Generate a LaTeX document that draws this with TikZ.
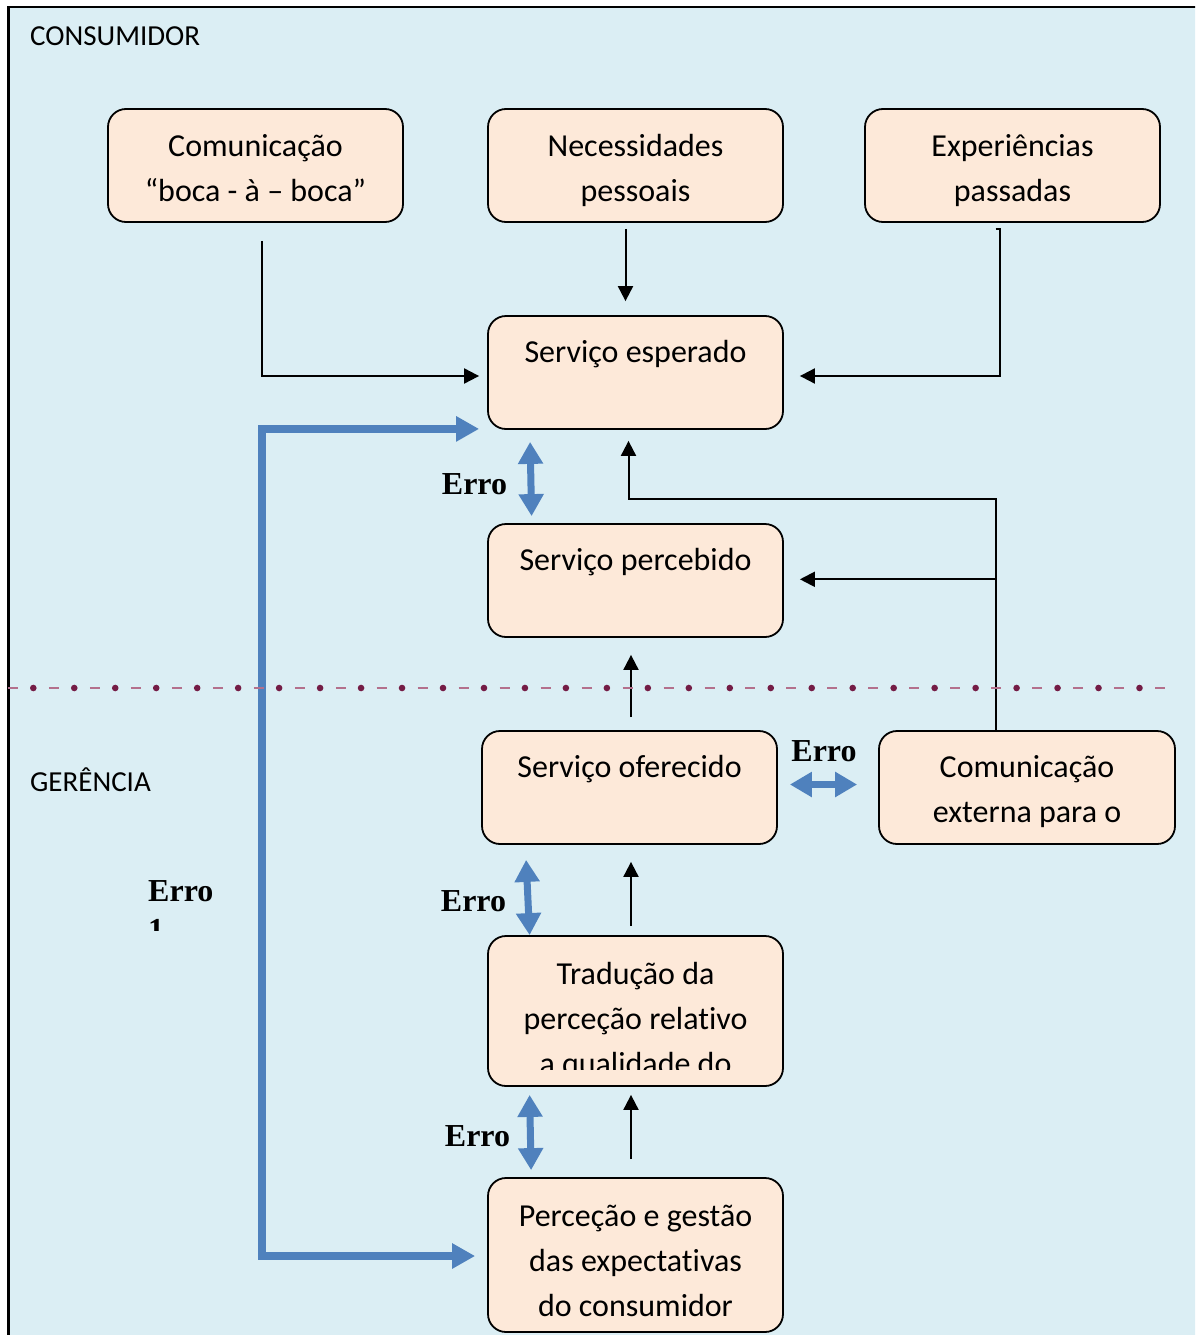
\documentclass[tikz,border=0pt]{standalone}
\usepackage{fontspec}
\setmainfont{Carlito}[Ligatures=NoCommon]
\newfontfamily\erfont{Liberation Serif}
\usetikzlibrary{arrows.meta,calc}
\definecolor{panel}{HTML}{DBEEF4}
\definecolor{boxfill}{HTML}{FDE9D9}
\definecolor{arrblue}{HTML}{4F81BD}
\definecolor{dotc}{HTML}{741C45}
\definecolor{dashc}{HTML}{B3708C}
\begin{document}
\begin{tikzpicture}[x=1pt,y=-1pt,
  box/.style={draw=black, line width=1.8pt, fill=boxfill, rounded corners=18pt, inner sep=0pt, minimum width=295pt, minimum height=113pt},
  btxt/.style={anchor=north, inner sep=0pt, align=center, font=\fontsize{32}{45}\selectfont, execute at begin node=\strut, yshift=-16pt},
  btxtm/.style={btxt, yshift=-10pt},
  lbl/.style={anchor=base west, inner sep=0pt, font=\fontsize{29}{35}\selectfont},
  erro/.style={anchor=base, inner sep=0pt, font=\erfont\bfseries\fontsize{32}{40}\selectfont},
  conn/.style={draw=black, line width=2pt, -{Triangle[length=15pt,width=15pt]}},
  bigblue/.style={draw=arrblue, line width=7.5pt, {Triangle[length=23pt,width=24pt]}-{Triangle[length=23pt,width=24pt]}},
  dblblue/.style={draw=arrblue, line width=7pt, {Triangle[length=22pt,width=24pt]}-{Triangle[length=22pt,width=24pt]}}
]
\useasboundingbox (0,0) rectangle (1195,1335);
\clip (0,0) rectangle (1195,1335);
\fill[white] (0,0) rectangle (1195,1335);
\draw[fill=panel, line width=2.4pt] (8.5,7) rectangle (1230,1370);

% section labels
\node[lbl] (consumidor) at (30,46) {CONSUMIDOR};
\node[lbl] (gerencia) at (30,791.5) {GERÊNCIA};

% boxes
\node[box] (B1) at (255.5,165.5) {};
\node[btxtm] (t1) at (B1.north) {Comunicação\\“boca - à – boca”};
\node[box] (B2) at (635.5,165.5) {};
\node[btxtm] (t2) at (B2.north) {Necessidades\\pessoais};
\node[box] (B3) at (1012.5,165.5) {};
\node[btxtm] (t3) at (B3.north) {Experiências\\passadas};
\node[box] (SE) at (635.5,372.5) {};
\node[btxt] (t4) at (SE.north) {Serviço esperado};
\node[box] (SP) at (635.5,580.5) {};
\node[btxt] (t5) at (SP.north) {Serviço percebido};
\node[box] (SO) at (629.5,787.5) {};
\node[btxt] (t6) at (SO.north) {Serviço oferecido};
\node[box, minimum width=296pt] (CE) at (1027,787.5) {};
\node[btxtm, yshift=1pt] (t7) at (CE.north) {Comunicação\\externa para o};
\node[box, minimum height=150pt] (TR) at (635.5,1011) {};
\begin{scope}
  \clip (TR.north west) rectangle ($(TR.south east)+(0,-17)$);
  \node[btxtm, yshift=-1pt] (t8) at (TR.north) {Tradução da\\perceção relativo\\a qualidade do};
\end{scope}
\node[box, minimum height=154pt] (PG) at (635.5,1255) {};
\node[btxtm, yshift=-2pt] (t9) at (PG.north) {Perceção e gestão\\das expectativas\\do consumidor};

% black connectors
\draw[conn] ($(B1.south)+(6,18)$) |- ($(SE.west)+(-8,3.5)$);
\draw[conn] ($(B2.south)+(-10,6)$) -- ($(SE.north)+(-10,-14)$);
\draw[conn] ($(B3.south)+(-17,6)$) -- ++(4.5,0) |- ($(SE.east)+(16,3.5)$);
\draw[conn] ($(CE.north)+(-31.5,0)$) |- ($(SE.south)+(-7,69)$) -- ($(SE.south)+(-7,11)$);
\coordinate (jn) at ($(CE.north)+(-31.5,-150.8)$);
\draw[conn] (jn) -- ($(jn -| SP.east)+(16,0)$);
\draw[conn] ($(SO.north)+(1.5,-13)$) -- ($(SP.south)+(-4.5,17)$);
\draw[conn] ($(TR.north)+(-4.5,-9)$) -- ($(SO.south)+(1.5,17)$);
\draw[conn] ($(PG.north)+(-4.5,-18)$) -- ($(TR.south)+(-4.5,8)$);

% blue arrows
\draw[bigblue] ($(SE.south west)+(-8,-1)$) -- ++(-217,0) |- ($(PG.west)+(-12,1)$);
\draw[dblblue] ($(SE.south west)+(43,12)$) -- ($(SP.north west)+(44.5,-7)$);
\draw[dblblue] ($(SO.east)+(12,-3)$) -- ($(CE.west)+(-21,-3)$);
\draw[dblblue] ($(SO.south west)+(45,15)$) -- ($(TR.north west)+(42.5,0)$);
\draw[dblblue] ($(TR.south west)+(42.5,8)$) -- ($(PG.north west)+(44,-7)$);

% Erro labels
\node[erro] (e1) at (474.5,494) {Erro};
\node[erro] (e2) at (824,761.5) {Erro};
\node[erro] (e3) at (473.5,911) {Erro};
\node[erro] (e4) at (477.5,1146.5) {Erro};
\begin{scope}
  \clip (100,850) rectangle (250,930);
  \node[anchor=north west, inner sep=0pt, align=left, font=\erfont\bfseries\fontsize{32}{40}\selectfont, execute at begin node=\strut] (e5) at (148,880) {Erro\\[-1pt]1};
\end{scope}

% dotted separator
\draw[dashc, line width=2.2pt, dash pattern=on 10pt off 30.97pt] (8,688) -- (1165,688);
\foreach \i in {0,...,27} \fill[dotc] (33.3+\i*40.97,688) circle (3.3);
\end{tikzpicture}
\end{document}
